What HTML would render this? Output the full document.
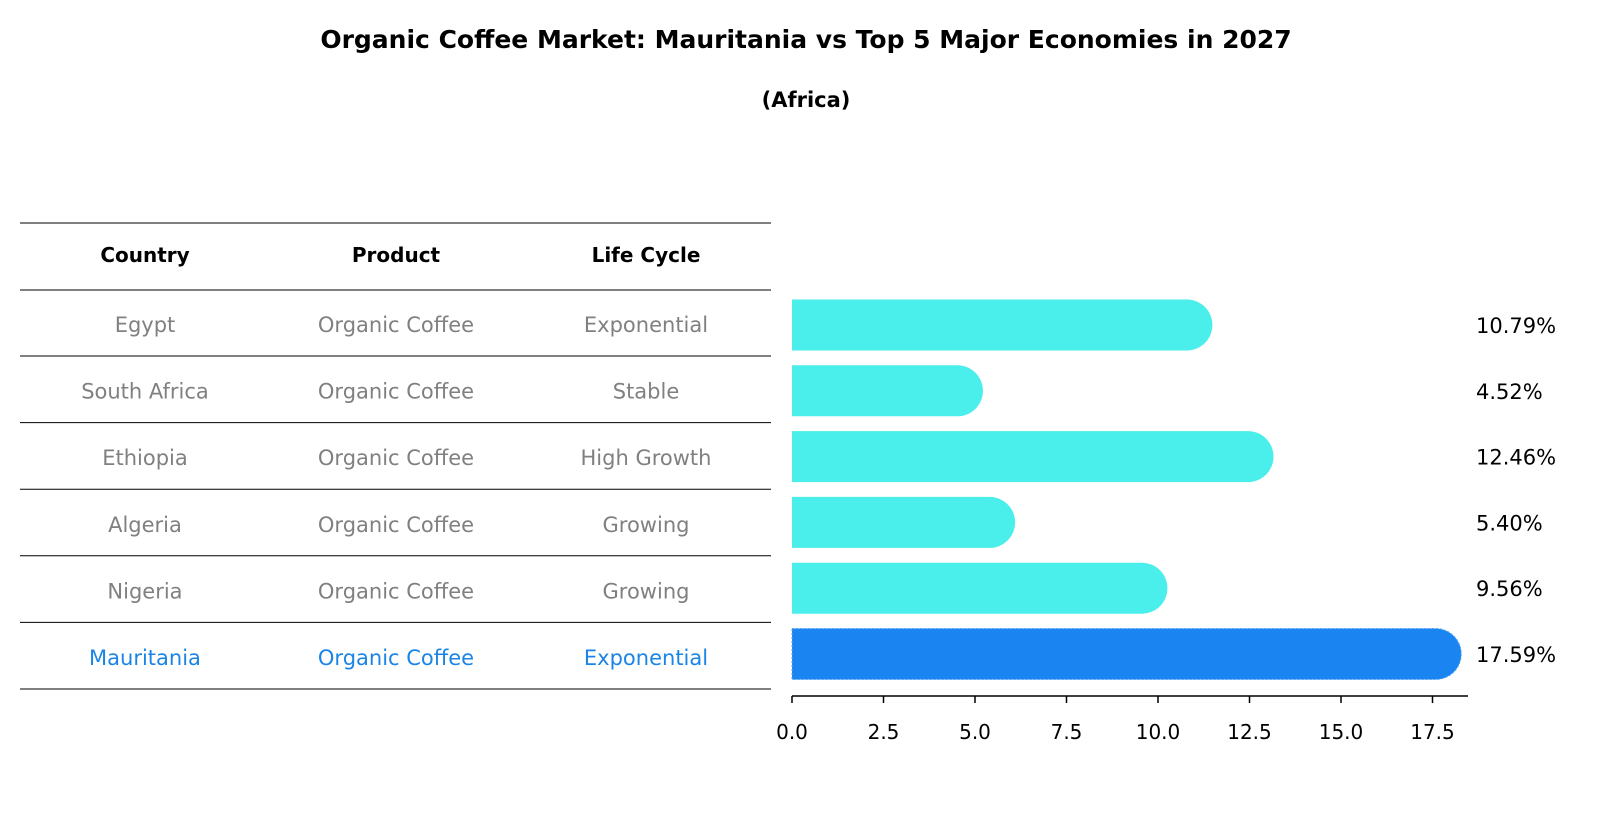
<!DOCTYPE html>
<html><head><meta charset="utf-8"><style>
body{margin:0;background:#fff;}
svg text{font-family:"DejaVu Sans","Liberation Sans",sans-serif;}
</style></head><body>
<svg id="c" width="1604" height="823" xmlns="http://www.w3.org/2000/svg">
<text x="806" y="48" text-anchor="middle" font-size="25" font-weight="bold">Organic Coffee Market: Mauritania vs Top 5 Major Economies in 2027</text>
<text x="806" y="107" text-anchor="middle" font-size="21" font-weight="bold">(Africa)</text>
<g id="tbl"></g>
<g id="bars"></g>
<g id="axis"></g>
</svg>
<script>
const countries=["Egypt","South Africa","Ethiopia","Algeria","Nigeria","Mauritania"];
const products=["Organic Coffee","Organic Coffee","Organic Coffee","Organic Coffee","Organic Coffee","Organic Coffee"];
const lifecycles=["Exponential","Stable","High Growth","Growing","Growing","Exponential"];
const values=[10.79,4.52,12.46,5.40,9.56,17.59];
const ticks=[0,2.5,5,7.5,10,12.5,15,17.5];
const NS="http://www.w3.org/2000/svg";
const x0=792,sc=36.6;
const xs=v=>x0+v*sc;
const rowY=i=>325+i*65.8;
function mk(tag,attrs,parent,txt){const e=document.createElementNS(NS,tag);for(const k in attrs)e.setAttribute(k,attrs[k]);if(txt!==undefined)e.textContent=txt;parent.appendChild(e);return e;}
const tbl=document.getElementById('tbl'),bars=document.getElementById('bars'),axis=document.getElementById('axis');
const colX=[145,396,646];
const heads=["Country","Product","Life Cycle"];
heads.forEach((h,j)=>{const t=mk('text',{x:colX[j],y:262,'text-anchor':'middle','font-size':20,'font-weight':'bold'},tbl,h);

});
const lineYs=[223,290];
for(let i=0;i<countries.length;i++)lineYs.push(356+i*66.6);
lineYs.forEach(y=>{const l=mk('line',{x1:20,x2:771,y1:y,y2:y,stroke:'#000','stroke-width':1},tbl);

});
countries.forEach((c,i)=>{
 const hl=c==="Mauritania";const col=hl?'#1a85e6':'#808080';
 [c,products[i],lifecycles[i]].forEach((s,j)=>{
  const t=mk('text',{x:colX[j],y:rowY(i)+7+i*0.8,'text-anchor':'middle','font-size':21,fill:col},tbl,s);
  
  
 });
 const v=values[i],cy=rowY(i),h=51,r=25.5;
 const xe=xs(v);
 const fill=hl?'#1a85f0':'#4aeeea';
 const p=mk('path',{d:`M${x0},${cy-h/2} H${xe} A${r},${r} 0 0 1 ${xe},${cy+h/2} H${x0} Z`,fill:fill},bars);
 if(hl){p.setAttribute('stroke','#5aa8f5');p.setAttribute('stroke-dasharray','2,2');}
 
 
 const lt=mk('text',{x:1476,y:cy+8,'font-size':21,fill:'#000'},bars,v.toFixed(2)+'%');
 
 
});
const al=mk('line',{x1:x0,x2:1468,y1:696,y2:696,stroke:'#000','stroke-width':1.5},axis);


ticks.forEach(t=>{
 const tk=mk('line',{x1:xs(t),x2:xs(t),y1:696,y2:703,stroke:'#000','stroke-width':1.5},axis);
 
 
 const tl=mk('text',{x:xs(t),y:739,'text-anchor':'middle','font-size':20},axis,t.toFixed(1));
 
 
});
</script>
</body></html>
